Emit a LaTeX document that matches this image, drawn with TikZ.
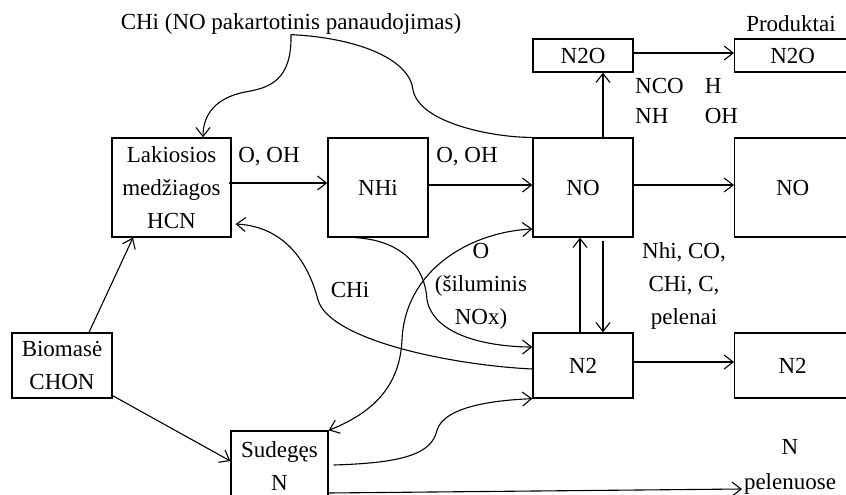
\documentclass[tikz,border=0pt]{standalone}
\usepackage{fontspec}
\setmainfont{Liberation Serif}
\usetikzlibrary{arrows.meta,calc}

\begin{document}
\begin{tikzpicture}[x=1pt,y=-1pt,
  every node/.style={font=\fontsize{23}{33}\selectfont},
  chembox/.style={draw, line width=1.3pt, inner sep=0pt, align=center, minimum width=100, minimum height=99},
  flow/.style={line width=1.1pt, -{Straight Barb[length=9pt,width=14pt]}},
  lbl/.style={inner sep=0pt, align=center}]
\def\outx{734}
\def\outw{116}

\useasboundingbox (0,0) rectangle (846,495);

% BOXES
\node[chembox, minimum width=119] (lak) at (171.5,187.5) {Lakiosios\\medžiagos\\HCN};
\node[chembox] (nhi) at (378,187.5) {NHi};
\node[chembox] (no) at (583,187.5) {NO};
\node[chembox, minimum height=33] (ntwoo) at (583,55.5) {N2O};
\node[chembox, minimum height=65] (ntwo) at (583,365.5) {N2};
\node[chembox, minimum height=65] (bio) at (62,365.5) {Biomasė\\CHON};
\node[chembox, minimum width=97, minimum height=70] (sud) at (279.5,466) {Sudegęs\\N};

% PRODUCTS
\node[chembox, anchor=west, minimum width=\outw, minimum height=33] (ntwoout) at (\outx,55.5) {N2O};
\node[chembox, anchor=west, minimum width=\outw] (noout) at (\outx,187.5) {NO};
\node[chembox, anchor=west, minimum width=\outw, minimum height=65] (ntwoout2) at (\outx,365.5) {N2};

% LABELS
\node[lbl] (recyc) at (291,24) {CHi (NO pakartotinis panaudojimas)};
\node[lbl] (prod) at (791,24) {Produktai};
\node[lbl] (ooh) at (269,157) {O, OH};
\node[lbl] (ooh2) at (467,157) {O, OH};
\node[anchor=north west, inner sep=0pt, font=\fontsize{23}{30}\selectfont] (rad) at (635,72)
  {\begin{tabular}{@{}l@{\hspace{21pt}}l@{}}NCO & H\\ NH & OH\end{tabular}};
\node[lbl] (red) at (684,286) {Nhi, CO,\\CHi, C,\\pelenai};
\node[lbl] (therm) at (481,286) {O\\(šiluminis\\NOx)};
\node[lbl] (chi) at (350,290) {CHi};
\node[lbl, font=\fontsize{23}{35}\selectfont] (npel) at (790,467) {N\\pelenuose};
\coordinate (pelend) at (742,489);

% STRAIGHT ARROWS
\draw[flow] ($(lak.east)+(-3,-4.5)$) -- ($(nhi.west)+(0,-4.5)$);
\draw[flow] ($(nhi.east)+(0,-2.5)$) -- ($(no.west)+(0,-2.5)$);
\draw[flow] ($(no.east)+(0,-2.5)$) -- ($(noout.west)+(0,-2.5)$);
\draw[flow] ($(no.north)+(20,0)$) -- ($(ntwoo.south)+(20,0)$);
\draw[flow] ($(ntwoo.east)+(0,-2.5)$) -- ($(ntwoout.west)+(0,-2.5)$);
\draw[flow] ($(ntwo.north)+(-3,0)$) -- ($(no.south)+(-3,0)$);
\draw[flow] ($(no.south)+(20,3)$) -- ($(ntwo.north)+(20,0)$);
\draw[flow] ($(ntwo.east)+(0,-3.5)$) -- ($(ntwoout2.west)+(0,-3.5)$);
\draw[flow] ($(bio.north)+(27,0)$) -- ($(lak.south)+(-38.5,0)$);
\draw[flow] ($(bio.south east)+(0,-3)$) -- ($(sud.west)+(0,-5)$);
\draw[flow] ($(sud.east)+(0,27)$) -- (pelend);

% CURVES
\draw[flow] (recyc.south) .. controls (292,80) and (270,88) .. (245,92)
  .. controls (215,98) and (203,115) .. ($(lak.north)+(31.5,0)$);
\draw[line width=1.1pt] (recyc.south) .. controls (360,38) and (410,60) .. (413,90)
  .. controls (420,125) and (500,138) .. (no.north west);
\draw[flow] ($(ntwo.west)+(0,3.5)$) .. controls (450,365) and (330,340) .. (318,300)
  .. controls (305,250) and (275,226) .. ($(lak.east)+(4,36.5)$);
\draw[flow] ($(nhi.south)+(-23,0)$) .. controls (400,240) and (425,265) .. (427,300)
  .. controls (435,340) and (500,347) .. ($(ntwo.west)+(0,-18.5)$);
\draw[line width=1.1pt, {Straight Barb[length=9pt,width=14pt]}-{Straight Barb[length=9pt,width=14pt]}]
  (sud.north east) .. controls (380,410) and (400,380) .. (402,340)
  .. controls (405,270) and (470,232) .. ($(no.west)+(0,41.5)$);
\draw[flow] ($(sud.east)+(5,-1)$) .. controls (400,463) and (432,455) .. (437,430)
  .. controls (445,405) and (500,400) .. (ntwo.south west);

\end{tikzpicture}
\end{document}
